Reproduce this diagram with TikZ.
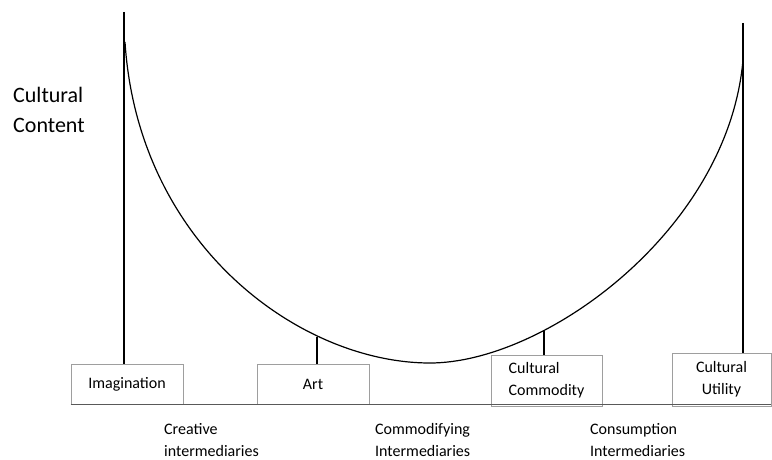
\documentclass[tikz,border=0pt]{standalone}
\usepackage{fontspec}
\setmainfont{Carlito}
\usepackage{tikz}
\usepackage{xcolor}
\usetikzlibrary{positioning,calc}
\definecolor{boxline}{gray}{0.62}
\definecolor{baseline}{gray}{0.35}

\begin{document}
\begin{tikzpicture}[x=1pt,y=-1pt,
  stage/.style={draw=boxline,line width=0.9pt,fill=white,inner sep=2pt,align=center,font=\fontsize{16}{22}\selectfont},
  tag/.style={anchor=west,inner sep=0pt,align=left,font=\fontsize{16}{22}\selectfont},
  stem/.style={line width=1.3pt}]
\useasboundingbox (0,0) rectangle (772,460);
\node[stage,minimum width=112,minimum height=40] (imag) at (127,384) {Imagination};
\node[stage,minimum width=112,minimum height=40] (art) at (313,384) {Art};
\node[stage,minimum width=111,minimum height=51,align=left] (comm) at (546.5,380.5) {Cultural\\Commodity};
\node[stage,minimum width=99,minimum height=53] (util) at (721.5,379.5) {Cultural\\Utility};
\coordinate (topL) at (124,12);
\coordinate (topR) at (743,23);
\coordinate (artTop) at (317,337);
\coordinate (commTop) at (544,331);
\coordinate (low) at (430,363);
\draw[stem] (topL) -- (topL |- imag.north);
\draw[stem] (topR) -- (topR |- util.north);
\draw[stem] (artTop) -- (artTop |- art.north);
\draw[stem] (commTop) -- (commTop |- comm.north);
\draw[line width=1.2pt] (125,42) .. controls (138,245) and (300,363) .. (low)
  .. controls (545,363) and (728,230) .. (743,60);
\draw[draw=baseline,line width=1pt] (imag.south west) -- (imag.south west -| util.south east);
\node[tag,font=\fontsize{22}{30}\selectfont] (content) at (13,110) {Cultural\\Content};
\node[tag] (creative) at (164,440) {Creative\\intermediaries};
\node[tag] (commodifying) at (375,440) {Commodifying\\Intermediaries};
\node[tag] (consumption) at (590,440) {Consumption\\Intermediaries};
\end{tikzpicture}
\end{document}
